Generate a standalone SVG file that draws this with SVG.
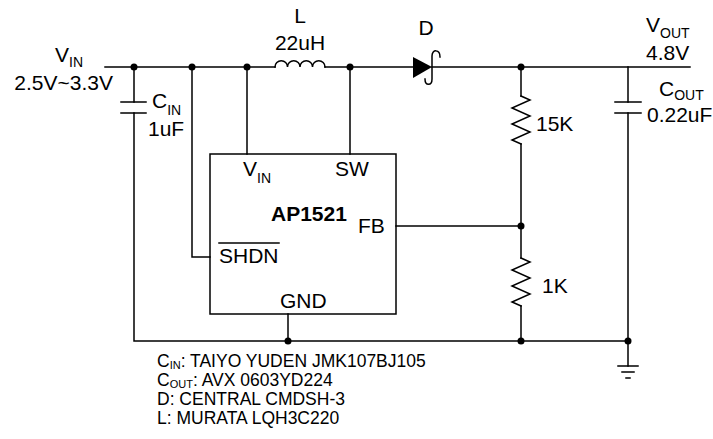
<svg xmlns="http://www.w3.org/2000/svg" width="713" height="439" viewBox="0 0 713 439">
<style>
.w{fill:none;stroke:#000;stroke-width:1.5;stroke-linecap:square}
.t{font-family:"Liberation Sans",Arial,sans-serif;font-size:21px;fill:#000}
.b{font-weight:bold}
.s{font-size:14px}
.n{font-family:"Liberation Sans",Arial,sans-serif;font-size:17.5px;fill:#000}
.ns{font-size:11px}
.d{fill:#000}
</style>
<rect width="713" height="439" fill="#fff"/>
<g id="connectors">
<path class="w" d="M105,67 H275 M325,67 H413 M432,67 H690"/>
<path class="w" d="M134,67 V102 M134,113 V341 H628"/>
<path class="w" d="M192,67 V257 H210"/>
<path class="w" d="M247,67 V154 M350,67 V154"/>
<path class="w" d="M396,226 H521"/>
<path class="w" d="M288,314 V341"/>
<path class="w" d="M521,67 V96 M521,144 V258 M521,306 V341"/>
<path class="w" d="M628,67 V102 M628,113 V366"/>
</g>
<g id="dots">
<circle class="d" cx="134" cy="67" r="3.5"/>
<circle class="d" cx="192" cy="67" r="3.5"/>
<circle class="d" cx="247" cy="67" r="3.5"/>
<circle class="d" cx="350" cy="67" r="3.5"/>
<circle class="d" cx="521" cy="67" r="3.5"/>
<circle class="d" cx="521" cy="226" r="3.5"/>
<circle class="d" cx="288" cy="341" r="3.5"/>
<circle class="d" cx="521" cy="341" r="3.5"/>
<circle class="d" cx="628" cy="341" r="3.5"/>
</g>
<g id="vin">
<text class="t" x="55" y="62">V<tspan class="s" dy="5">IN</tspan></text>
<text class="t" x="113" y="90" text-anchor="end">2.5V~3.3V</text>
</g>
<g id="cin">
<path class="w" d="M121,102 H146 M121,113 H146"/>
<text class="t" x="152" y="108">C<tspan class="s" dy="7">IN</tspan></text>
<text class="t" x="148" y="136">1uF</text>
</g>
<g id="inductor">
<path class="w" d="M275,67 a6.25,6.25 0 0 1 12.5,0 a6.25,6.25 0 0 1 12.5,0 a6.25,6.25 0 0 1 12.5,0 a6.25,6.25 0 0 1 12.5,0"/>
<text class="t" x="300" y="23" text-anchor="middle">L</text>
<text class="t" x="300" y="50" text-anchor="middle">22uH</text>
</g>
<g id="diode">
<path class="d" d="M413,57 L432,67 L413,78 Z"/>
<path class="w" d="M440,57 C440,49 432,49 432,56 V79 C432,86 425,86 425,79"/>
<text class="t" x="426" y="35" text-anchor="middle">D</text>
</g>
<g id="ic">
<rect x="210" y="154" width="186" height="160" fill="none" stroke="#000" stroke-width="1.5"/>
<text class="t" x="243" y="176">V<tspan class="s" dy="7">IN</tspan></text>
<text class="t" x="335" y="176">SW</text>
<text class="t b" x="271" y="221">AP1521</text>
<text class="t" x="358" y="233">FB</text>
<text class="t" x="219" y="263">SHDN</text>
<path class="w" d="M219,243 H279" stroke-linecap="butt"/>
<text class="t" x="280" y="308">GND</text>
</g>
<g id="r15k">
<path class="w" d="M521,96 L530,100 L512,108 L530,116 L512,124 L530,132 L512,140 L521,144"/>
<text class="t" x="536" y="131">15K</text>
</g>
<g id="r1k">
<path class="w" d="M521,258 L530,262 L512,270 L530,278 L512,286 L530,294 L512,302 L521,306"/>
<text class="t" x="542" y="293">1K</text>
</g>
<g id="cout">
<path class="w" d="M615,102 H641 M615,113 H641"/>
<text class="t" x="659" y="96">C<tspan class="s" dy="4">OUT</tspan></text>
<text class="t" x="647" y="122">0.22uF</text>
</g>
<g id="vout">
<text class="t" x="646" y="32">V<tspan class="s" dy="6">OUT</tspan></text>
<text class="t" x="646" y="60">4.8V</text>
</g>
<g id="ground">
<path class="w" d="M618,366 H638 M622,372 H634 M626,378 H630" stroke-linecap="butt"/>
</g>
<g id="notes">
<text class="n" x="157" y="367">C<tspan class="ns" dy="2">IN</tspan><tspan dy="-2">: TAIYO YUDEN JMK107BJ105</tspan></text>
<text class="n" x="157" y="386">C<tspan class="ns" dy="2">OUT</tspan><tspan dy="-2">: AVX 0603YD224</tspan></text>
<text class="n" x="157" y="405">D: CENTRAL CMDSH-3</text>
<text class="n" x="157" y="424">L: MURATA LQH3C220</text>
</g>
</svg>
